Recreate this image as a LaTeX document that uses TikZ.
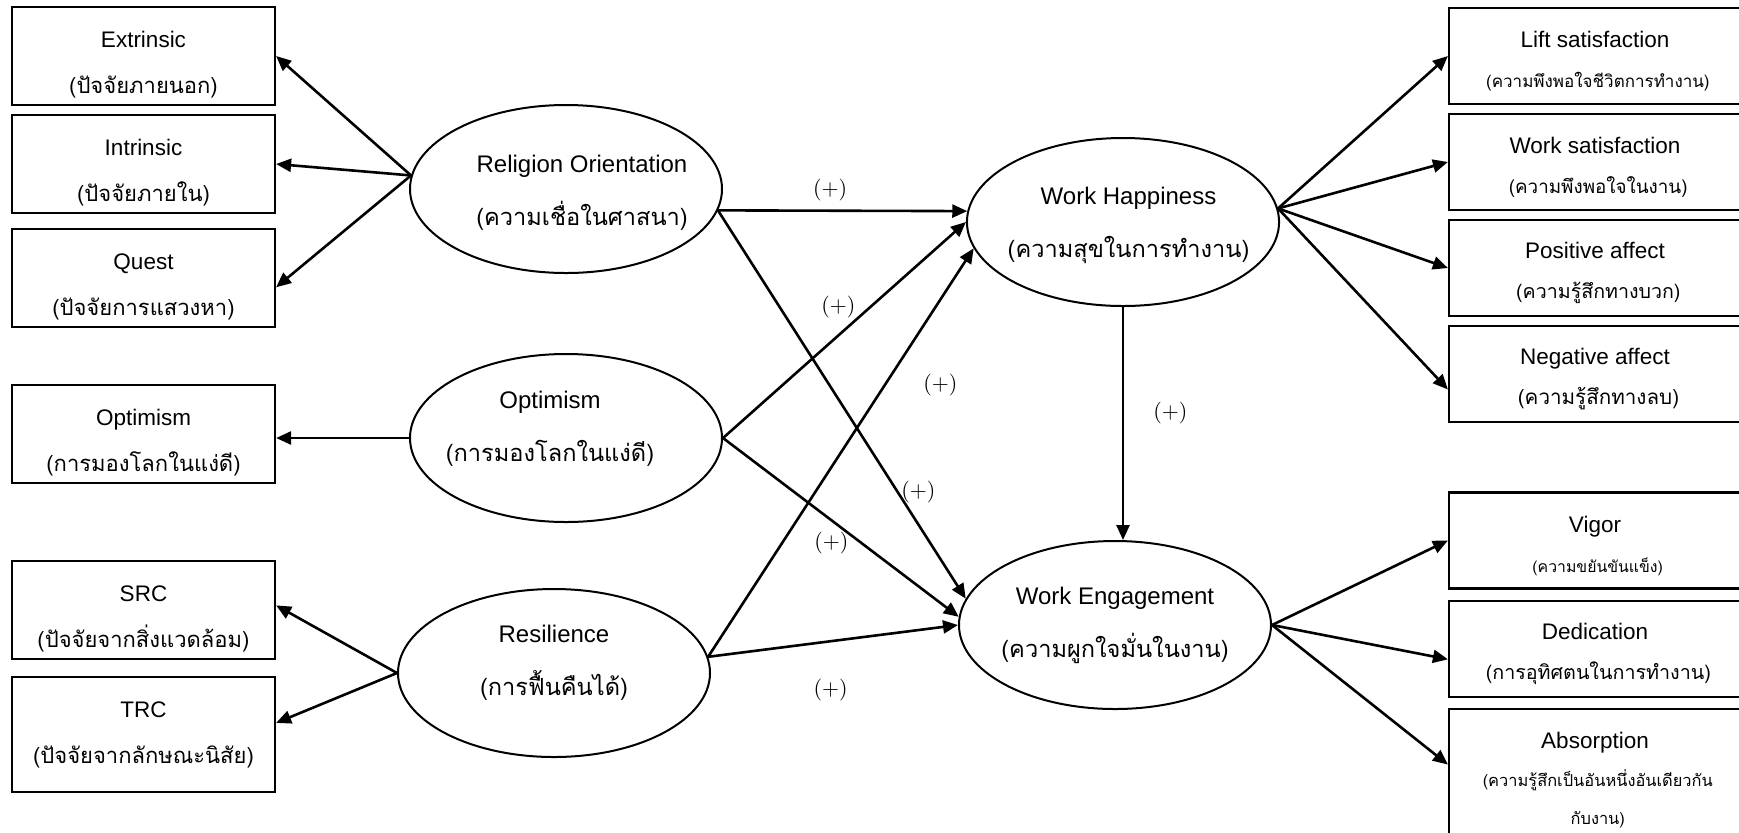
\documentclass[tikz,border=0pt]{standalone}
\usepackage[no-math]{fontspec}
\setmainfont{Liberation Sans}
\newfontfamily\thaifont[Script=Thai]{Loma}
\usetikzlibrary{arrows.meta,shapes.geometric}

\newcommand{\thaiat}[1]{\thaifont\fontsize{#1}{#1}\selectfont}
\newcommand{\thaibox}{\thaiat{11}}
\newcommand{\thaioval}{\thaiat{11.8}}

\begin{document}
\begin{tikzpicture}[x=0.5pt,y=0.5pt,>={Triangle[length=7.5pt,width=6.5pt]},
    line width=1.3pt,node distance=54pt,
    indic/.style={draw,rectangle,line width=1.1pt,minimum width=131.5pt,
      minimum height=49pt,inner sep=0pt,align=center,text height=40pt,
      font=\fontsize{11.25}{23}\selectfont},
    indicr/.style={indic,minimum width=146pt,minimum height=48pt,
      text height=33.5pt,font=\fontsize{11.25}{20}\selectfont},
    latent/.style={draw,ellipse,line width=1pt,minimum width=156pt,
      minimum height=84pt,inner sep=0pt,inner xsep=-8pt,align=center,
      text height=38.5pt,font=\fontsize{12}{26.5}\selectfont},
    plus/.style={inner sep=0pt,font=\fontsize{11}{11}\selectfont}]

      \useasboundingbox (0,0) rectangle (1739,-832);

      %% latent variables
      \node[latent] (rel)  at (566,-189)  {\hspace*{16pt}Religion Orientation\\{\hspace*{16pt}\thaioval (ความเชื่อในศาสนา)}};
      \node[latent,text height=26pt] (optE) at (566,-438)
            {Optimism\hspace{16pt}\null\\{\thaioval (การมองโลกในแง่ดี)\hspace{16pt}\null}};
      \node[latent,text height=24.5pt] (res) at (554,-673) {Resilience\\{\thaioval (การฟื้นคืนได้)}};
      \node[latent] (wh)   at (1123,-222) {\hspace*{5.5pt}Work Happiness\\{\hspace*{5.5pt}\thaioval (ความสุขในการทำงาน)}};
      \node[latent,text height=35.5pt] (we) at (1115,-625) {Work Engagement\\{\thaioval (ความผูกใจมั่นในงาน)}};

      %%%%%%%%%%%%%%%%%%%%%%%%%%%%%%%%%%%%%%%%%%%%%%%%%%%%%%%%%%%
      %% indicators, left
      %%%%%%%%%%%%%%%%%%%%%%%%%%%%%%%%%%%%%%%%%%%%%%%%%%%%%%%%%%%
      \node[indic] (ext)   at (143.5,-56)                      {Extrinsic\\{\thaibox (ปัจจัยภายนอก)}};
      \node[indic] (intr)  [below of=ext]                      {Intrinsic\\{\thaibox (ปัจจัยภายใน)}};
      \node[indic] (quest) [below of=intr,node distance=57pt]  {Quest\\{\thaibox (ปัจจัยการแสวงหา)}};
      \node[indic] (optB)  at (143.5,-434)                     {Optimism\\{\thaibox (การมองโลกในแง่ดี)}};
      \node[indic] (src)   at (143.5,-610)                     {SRC\\{\thaibox (ปัจจัยจากสิ่งแวดล้อม)}};
      \node[indic,minimum height=57.5pt,text height={}] (trc) [below of=src,node distance=62.25pt]
            {TRC\\{\thaibox (ปัจจัยจากลักษณะนิสัย)}};

      \path[->]  (rel.175)    edge (ext.east);
      \path[->]  (rel.175)    edge (intr.east);
      \path[->]  (rel.175)    edge (quest.-4);
      \path[->]  (optE.west)  edge (optE.west -| optB.east);
      \path[->]  (res.west)   edge (src.2);
      \path[->]  (res.west)   edge (trc.5);

      %%%%%%%%%%%%%%%%%%%%%%%%%%%%%%%%%%%%%%%%%%%%%%%%%%%%%%%%%%%
      %% indicators, right
      %%%%%%%%%%%%%%%%%%%%%%%%%%%%%%%%%%%%%%%%%%%%%%%%%%%%%%%%%%%
      \node[indicr] (lift)   at (1595,-56)                        {Lift satisfaction\\{\thaiat{8.5} (ความพึงพอใจชีวิตการทำงาน)}};
      \node[indicr] (wsat)   [below of=lift,node distance=53pt]   {Work satisfaction\\{\thaiat{9.4} (ความพึงพอใจในงาน)}};
      \node[indicr] (posaff) [below of=wsat,node distance=53pt]   {Positive affect\\{\thaiat{9.8} (ความรู้สึกทางบวก)}};
      \node[indicr] (negaff) [below of=posaff,node distance=53pt] {Negative affect\\{\thaiat{10.3} (ความรู้สึกทางลบ)}};
      \node[indicr] (vig)    at (1595,-540.5)                     {Vigor\\{\thaiat{7.9} (ความขยันขันแข็ง)}};
      \node[indicr] (ded)    [below of=vig,node distance=54.25pt] {Dedication\\{\thaiat{9.85} (การอุทิศตนในการทำงาน)}};
      \node[indicr,minimum height=71pt,text height={},font=\fontsize{11.25}{19}\selectfont] (abs)
            [below of=ded,node distance=65.5pt]
            {Absorption\\{\thaiat{8.2} (ความรู้สึกเป็นอันหนึ่งอันเดียวกัน}\\{\thaiat{8.2} กับงาน)}};

      \path[->]  (wh.5)    edge (lift.west);
      \path[->]  (wh.5)    edge (wsat.west);
      \path[->]  (wh.5)    edge (posaff.west);
      \path[->]  (wh.5)    edge (negaff.186);
      \path[->]  (we.east) edge (vig.west);
      \path[->]  (we.east) edge (ded.184);
      \path[->]  (we.east) edge (abs.174);

      %%%%%%%%%%%%%%%%%%%%%%%%%%%%%%%%%%%%%%%%%%%%%%%%%%%%%%%%%%
      %% structural paths
      \path[->]  (rel.-8)    edge node[plus,pos=.45,above=4.25pt]  {$(+)$} (wh.176);
      \path[->]  (optE.east) edge node[plus,pos=.55,above left]    {$(+)$} (wh.west);
      \path[->]  (res.6)     edge node[plus,pos=.665,right=18.7pt] {$(+)$} (wh.190);
      \path[->]  (rel.-8)    edge node[plus,pos=.725,right=1.25pt] {$(+)$} (we.170);
      \path[->]  (optE.east) edge node[plus,pos=.46,below=5.5pt]   {$(+)$} (we.177);
      \path[->]  (res.6)     edge node[plus,pos=.49,below=18.3pt]  {$(+)$} (we.west);
      \path[->]  (wh.south)  edge node[plus,pos=.453,right=14.5pt] {$(+)$} (wh.south |- we.north);
    \end{tikzpicture}
\end{document}
